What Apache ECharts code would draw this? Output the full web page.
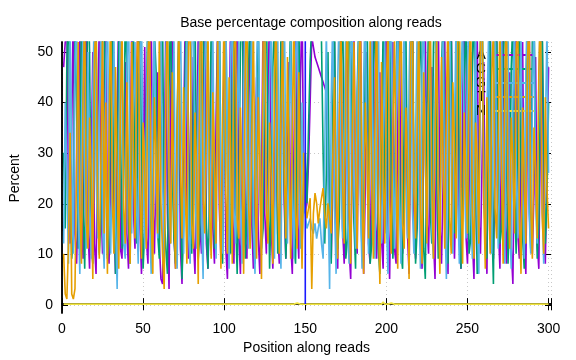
<!DOCTYPE html>
<html><head><meta charset="utf-8">
<script src="https://cdn.jsdelivr.net/npm/echarts@6/dist/echarts.min.js"></script>
<style>html,body{margin:0;padding:0;background:#fff}#c{width:576px;height:360px}</style>
</head><body><div id="c"></div>
<script>
const title = "Base percentage composition along reads";
const xLabel = "Position along reads";
const yLabel = "Percent";
const bases = ["A", "C", "G", "T", "N"];
const colors = ["#9400d3", "#009e73", "#56b4e9", "#e69f00", "#f0e442"];
const xTicks = [0, 50, 100, 150, 200, 250, 300];
const yTicks = [0, 10, 20, 30, 40, 50];
const markerPosition = 150;

const seriesA = [47,52,58,20,12,35,60,14,8,22,55,18,9,40,62,15,7,28,50,12,
6,33,57,21,10,45,64,13,8,25,53,17,6,38,59,11,9,30,48,14,
7,26,56,19,11,42,61,16,6,24,51,13,8,36,58,20,10,29,46,12,
5,4,27,55,18,3,40,63,14,7,23,52,11,4,35,57,17,9,31,49,
13,6,28,54,16,10,43,60,12,7,21,50,15,8,37,56,19,9,26,47,
11,5,32,58,17,8,41,62,14,6,24,53,12,9,34,59,16,7,29,45,
13,6,25,57,18,10,39,61,15,7,22,51,14,8,33,55,20,9,27,48,
12,6,30,56,16,9,44,60,25,18,
20,28,40,53,51,49,48,47,46,45,44,43,42,30,18,9,24,52,13,7,
36,58,15,8,27,49,11,5,33,57,19,10,42,61,14,6,23,50,12,8,
31,55,17,9,26,46,13,7,38,60,16,5,28,52,11,8,35,57,18,10,
24,48,14,6,40,63,15,9,22,51,12,7,32,56,17,10,29,47,13,5,
37,59,16,8,25,53,11,6,34,58,20,9,27,45,12,7,39,62,14,8,
23,50,13,5,31,55,17,10,28,48,15,6,41,60,12,9,26,54,16,7,
35,57,18,8,24,46,11,4,33,59,14,9,30,52,13,6,38,61,17,10,
22,49,12,7,36,56,15,8,27,47];

const seriesC = [30,15,48,62,22,9,14,55,40,11,26,58,19,7,33,64,50,12,8,45,
57,21,10,17,52,60,28,9,13,44,61,25,6,19,53,38,11,24,59,47,
16,8,35,56,23,12,49,63,29,7,15,41,58,20,10,27,54,46,14,9,
31,57,18,11,6,43,60,26,13,8,37,55,22,5,16,48,62,30,12,10,
39,58,24,9,14,51,61,33,15,7,28,56,45,11,19,53,64,21,8,36,
59,27,12,10,44,57,18,6,23,50,63,35,9,17,46,60,31,13,8,40,
58,25,11,15,52,62,29,7,20,47,56,38,10,14,55,61,24,9,18,42,
57,30,12,8,36,60,22,11,26,30,
20,35,48,56,56,55,54,53,58,52,30,12,26,50,15,8,40,58,20,11,
17,45,61,28,9,13,54,59,34,16,7,42,57,23,10,19,50,63,27,8,
12,47,58,36,11,6,31,55,20,14,53,60,25,9,17,44,62,32,10,7,
39,56,21,13,49,61,28,8,15,43,58,34,11,5,37,57,19,12,51,63,
26,9,16,46,59,30,12,8,41,55,22,14,52,62,27,7,18,45,57,33,
10,13,48,60,24,6,20,54,63,29,11,9,38,58,17,4,43,56,25,12,
15,50,61,31,8,19,47,57,23,10,36,59,28,13,7,42,55,20,11,53,
62,26,9,16,45,58,32,12,21,40];

const seriesG = [12,40,25,8,55,30,10,47,62,18,6,35,57,24,11,50,20,9,42,60,
26,13,38,56,15,7,44,63,21,10,31,54,17,3,28,59,40,12,9,46,
61,23,14,37,52,19,8,45,58,27,11,33,60,16,6,41,55,22,13,39,
57,25,9,48,62,20,12,34,53,18,7,43,59,29,10,36,56,14,8,50,
63,24,11,40,57,17,5,46,61,28,13,32,55,21,9,44,58,15,10,38,
60,26,7,49,62,19,12,35,54,23,8,42,59,30,11,37,57,16,6,47,
61,27,10,33,56,20,14,45,58,24,9,39,55,18,7,43,62,28,12,36,
53,21,9,48,60,25,11,40,20,18,
15,16,17,15,14,16,13,15,17,12,9,30,55,22,3,41,58,19,6,44,
61,26,13,34,57,17,8,47,59,23,11,38,54,20,7,45,62,29,10,35,
56,18,9,43,60,24,12,31,53,16,6,49,61,27,11,40,57,21,8,36,
58,25,13,44,62,19,10,33,55,22,7,46,59,28,12,39,56,15,9,42,
60,24,11,37,54,18,5,48,63,26,10,35,57,20,8,41,58,30,13,47,
61,22,9,34,56,17,6,45,60,27,12,38,53,19,10,43,62,25,11,32,
55,21,8,49,59,16,7,40,57,28,13,36,54,23,9,46,61,18,10,39,
58,24,12,44,60,20,8,33,55,26];

const seriesT = [10,2,1,12,34,2,1,3,28,52,20,8,42,60,16,11,37,25,5,48,
58,18,9,29,55,14,40,6,33,61,21,10,47,26,7,38,57,19,12,44,
24,8,52,31,13,45,60,22,9,36,27,11,49,58,17,6,41,30,14,53,
20,10,3,39,61,25,12,46,19,7,34,57,28,13,43,23,8,51,59,16,
11,38,27,4,48,62,21,14,35,56,18,9,42,29,12,54,24,7,37,60,
22,10,45,31,8,50,57,17,13,39,26,6,47,61,20,11,33,55,23,9,
41,28,5,52,59,19,12,36,25,8,44,60,21,10,38,54,27,13,49,30,
9,35,58,18,11,46,24,7,30,20,
17,19,21,3,18,22,20,16,19,21,23,18,15,20,17,14,30,45,22,9,
38,57,24,12,44,61,19,8,33,52,27,11,47,58,20,6,40,30,13,55,
23,9,36,60,18,4,48,26,12,43,57,21,10,35,53,25,7,45,62,16,
11,39,28,5,51,59,22,13,37,56,19,8,46,30,12,42,61,24,9,34,
54,20,6,49,27,11,40,58,17,10,44,31,13,53,60,23,8,38,25,14,
47,57,18,9,36,29,12,52,62,21,7,41,24,10,45,55,19,13,33,58,
26,8,43,60,22,11,37,28,14,50,56,17,6,39,24,12,48,59,20,9,
35,27,13,46,61,18,10,41,23,15];

// N is zero except for these small bumps
const nBumpPositions = [12, 145, 198, 203, 212, 218];
const nBumpValues = [0.3, 0.2, 0.4, 0.2, 0.2, 0.3];

const seriesN = seriesA.map((_, i) => {
  const k = nBumpPositions.indexOf(i + 1);
  return k >= 0 ? nBumpValues[k] : 0;
});

const allSeries = [seriesA, seriesC, seriesG, seriesT, seriesN];
const toPairs = arr => arr.map((v, i) => [i + 1, v]);

const FONT = "Liberation Sans, Arial, sans-serif";
const FS = 14;
const tickFmt = (ticks) => (v) => ticks.indexOf(Math.round(v * 1000) / 1000) >= 0 ? String(v) : '';

const chart = echarts.init(document.getElementById('c'), null, {renderer: 'canvas'});

const frameLine = {show: true, lineStyle: {color: '#000', width: 1.5}};
const innerTick = {show: true, inside: true, length: 6, lineStyle: {color: '#000', width: 1}};
const gridLine = {show: true, lineStyle: {color: '#c8c8c8', type: [1, 3], width: 1}};

const option = {
  animation: false,
  backgroundColor: '#fff',
  title: {
    text: title, left: 306, top: 11, textAlign: 'center',
    textStyle: {fontFamily: FONT, fontSize: FS, fontWeight: 'normal', color: '#000'}
  },
  grid: [
    {left: 62, right: 25, top: 42, bottom: 46, containLabel: false},
    {left: 62, right: 25, top: 52, bottom: 55, containLabel: false}
  ],
  legend: {
    data: bases, orient: 'vertical', left: 470, top: 43, align: 'right',
    icon: 'rect', itemWidth: 40, itemHeight: 2, itemGap: 0,
    textStyle: {fontFamily: FONT, fontSize: FS, color: '#000', lineHeight: 14, padding: [0, 4, 0, 0]}
  },
  xAxis: [
    {
      type: 'value', gridIndex: 0, position: 'bottom', min: 0, max: 301.5, interval: 50,
      axisLine: frameLine, axisTick: innerTick, splitLine: gridLine,
      name: xLabel, nameLocation: 'middle', nameGap: 27,
      nameTextStyle: {fontFamily: FONT, fontSize: FS, color: '#000'},
      axisLabel: {fontFamily: FONT, fontSize: FS, color: '#000', margin: 9, formatter: tickFmt(xTicks)}
    },
    {
      type: 'value', gridIndex: 0, position: 'top', min: 0, max: 301.5, interval: 50,
      axisLine: frameLine, axisTick: innerTick, splitLine: {show: false}, axisLabel: {show: false}
    },
    {
      type: 'value', gridIndex: 1, min: 0, max: 301.5, show: false
    }
  ],
  yAxis: [
    {
      type: 'value', gridIndex: 0, position: 'left', min: -1.78, max: 51.98,
      axisLine: frameLine, axisTick: {show: false}, splitLine: {show: false}, axisLabel: {show: false}
    },
    {
      type: 'value', gridIndex: 0, position: 'right', min: -1.78, max: 51.98,
      axisLine: frameLine, axisTick: {show: false}, splitLine: {show: false}, axisLabel: {show: false}
    },
    {
      type: 'value', gridIndex: 1, position: 'left', min: 0, max: 50, interval: 10,
      axisLine: {show: false}, axisTick: innerTick, splitLine: gridLine,
      name: yLabel, nameLocation: 'middle', nameGap: 40, nameRotate: 90,
      nameTextStyle: {fontFamily: FONT, fontSize: FS, color: '#000'},
      axisLabel: {fontFamily: FONT, fontSize: FS, color: '#000', margin: 9, formatter: tickFmt(yTicks)}
    },
    {
      type: 'value', gridIndex: 1, position: 'right', min: 0, max: 50, interval: 10,
      axisLine: {show: false}, axisTick: innerTick, splitLine: {show: false}, axisLabel: {show: false}
    }
  ],
  series: bases.map((b, i) => ({
    name: b, type: 'line', xAxisIndex: 0, yAxisIndex: 0, data: toPairs(allSeries[i]),
    showSymbol: false, symbol: 'none', clip: true,
    lineStyle: {color: colors[i], width: 1.6},
    itemStyle: {color: colors[i]},
    z: 2 + i
  })).concat([{
    name: 'marker', type: 'line', xAxisIndex: 0, yAxisIndex: 0, showSymbol: false, symbol: 'none', clip: true,
    data: [[markerPosition, 0], [markerPosition, 100]],
    lineStyle: {color: '#1a1aff', width: 1.6}, z: 10
  }])
};
chart.setOption(option);
</script></body></html>
